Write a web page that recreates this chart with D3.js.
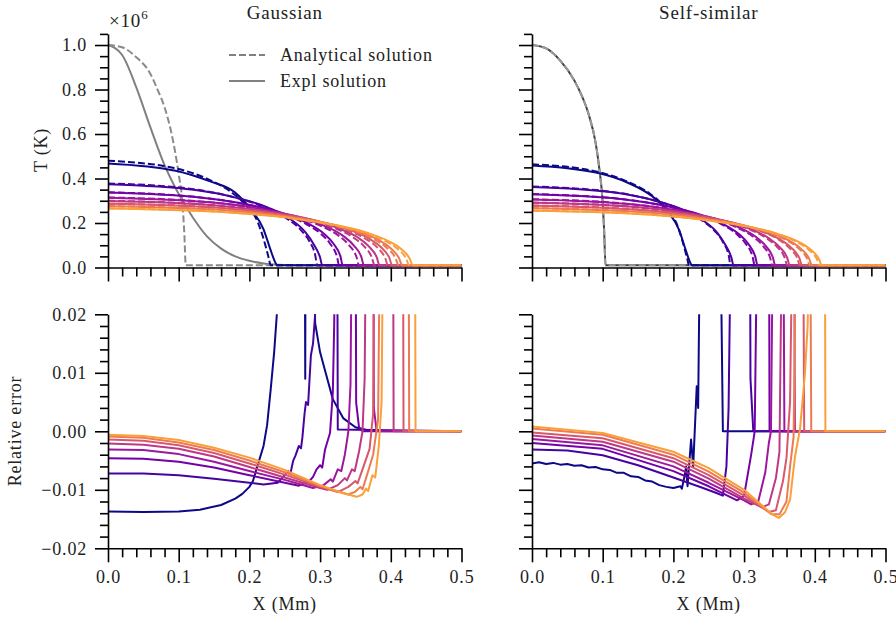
<!DOCTYPE html>
<html lang="en">
<head>
<meta charset="UTF-8">
<title>Gaussian vs Self-similar conduction fronts</title>
<style>
    body { margin: 0; background: #fff; }
    text { font-family: "Liberation Serif", "DejaVu Serif", serif; fill: #222; letter-spacing: 0.8px; }
    .axis path, .axis line { stroke: #000; stroke-width: 1.6px; }
</style>
</head>
<body>
<svg id="chart" width="896" height="621"></svg>
<script src="https://d3js.org/d3.v7.min.js"></script>
<script>
// ---- data (T in units of 1e6 K, x in Mm) ----
const panelTitles = ["Gaussian", "Self-similar"];
const legendLabels = ["Analytical solution", "Expl solution"];
const xMajor = [0, 0.1, 0.2, 0.3, 0.4, 0.5];
const tMajor = [0, 0.2, 0.4, 0.6, 0.8, 1.0];
const errMajor = [-0.02, -0.01, 0, 0.01, 0.02];

// initial profiles (grey)
const gaussInitNum = [[0,1.0],[0.02,0.955],[0.04,0.81],[0.06,0.63],[0.08,0.46],[0.1,0.33],[0.12,0.225],[0.14,0.14],[0.16,0.085],[0.18,0.05],[0.2,0.03],[0.22,0.018],[0.24,0.012],[0.26,0.01],[0.5,0.01]];
const gaussInitAna = [[0,1.0],[0.02,0.99],[0.04,0.945],[0.06,0.87],[0.07,0.8],[0.08,0.72],[0.09,0.6],[0.1,0.42],[0.105,0.3],[0.108,0.15],[0.11,0.01],[0.5,0.01]];
const selfInitNum = [[0,1.0],[0.02,0.985],[0.04,0.93],[0.06,0.84],[0.07,0.775],[0.08,0.69],[0.09,0.56],[0.095,0.45],[0.1,0.29],[0.102,0.17],[0.104,0.01],[0.5,0.01]];
const selfInitAna = [[0,1.0],[0.02,0.985],[0.04,0.93],[0.06,0.84],[0.07,0.775],[0.08,0.69],[0.09,0.56],[0.095,0.45],[0.1,0.29],[0.102,0.17],[0.104,0.01],[0.5,0.01]];

// later times, numerical (solid) and analytical (dashed)
const gaussNum = [
  [[0,0.468],[0.0956,0.435],[0.1434,0.388],[0.1793,0.338],[0.2032,0.257],[0.2199,0.173],[0.2294,0.084],[0.2366,0.023],[0.239,0.01],[0.5,0.01]],
  [[0,0.374],[0.1212,0.349],[0.1818,0.313],[0.2273,0.268],[0.2576,0.218],[0.2788,0.16],[0.2909,0.105],[0.3,0.045],[0.303,0.01],[0.5,0.01]],
  [[0,0.337],[0.1328,0.314],[0.1992,0.282],[0.249,0.242],[0.2822,0.199],[0.3054,0.152],[0.3187,0.108],[0.3287,0.051],[0.332,0.01],[0.5,0.01]],
  [[0,0.314],[0.1448,0.293],[0.2172,0.263],[0.2715,0.225],[0.3077,0.185],[0.333,0.141],[0.3475,0.1],[0.3584,0.047],[0.362,0.01],[0.5,0.01]],
  [[0,0.299],[0.1536,0.279],[0.2304,0.25],[0.288,0.215],[0.3264,0.176],[0.3533,0.135],[0.3686,0.096],[0.3802,0.045],[0.384,0.01],[0.5,0.01]],
  [[0,0.286],[0.1608,0.267],[0.2412,0.239],[0.3015,0.205],[0.3417,0.169],[0.3698,0.129],[0.3859,0.092],[0.398,0.043],[0.402,0.01],[0.5,0.01]],
  [[0,0.275],[0.1664,0.257],[0.2496,0.23],[0.312,0.197],[0.3536,0.162],[0.3827,0.124],[0.3994,0.088],[0.4118,0.041],[0.416,0.01],[0.5,0.01]],
  [[0,0.265],[0.1724,0.247],[0.2586,0.222],[0.3233,0.19],[0.3664,0.156],[0.3965,0.119],[0.4138,0.085],[0.4267,0.04],[0.431,0.01],[0.5,0.01]]
];
const gaussAna = [
  [[0,0.48],[0.092,0.448],[0.138,0.402],[0.1725,0.343],[0.1955,0.278],[0.2116,0.206],[0.2208,0.12],[0.2277,0.038],[0.23,0.01],[0.5,0.01]],
  [[0,0.378],[0.1184,0.353],[0.1776,0.316],[0.222,0.271],[0.2516,0.223],[0.2723,0.17],[0.2842,0.121],[0.293,0.057],[0.296,0.01],[0.5,0.01]],
  [[0,0.338],[0.1308,0.315],[0.1962,0.283],[0.2453,0.243],[0.278,0.199],[0.3008,0.152],[0.3139,0.108],[0.3237,0.051],[0.327,0.01],[0.5,0.01]],
  [[0,0.315],[0.142,0.294],[0.213,0.264],[0.2663,0.226],[0.3018,0.186],[0.3266,0.142],[0.3408,0.101],[0.3515,0.047],[0.355,0.01],[0.5,0.01]],
  [[0,0.3],[0.1508,0.28],[0.2262,0.251],[0.2828,0.215],[0.3205,0.177],[0.3468,0.135],[0.3619,0.096],[0.3732,0.045],[0.377,0.01],[0.5,0.01]],
  [[0,0.287],[0.1584,0.268],[0.2376,0.24],[0.297,0.206],[0.3366,0.169],[0.3643,0.129],[0.3802,0.092],[0.392,0.043],[0.396,0.01],[0.5,0.01]],
  [[0,0.276],[0.1644,0.258],[0.2466,0.231],[0.3083,0.198],[0.3494,0.163],[0.3781,0.124],[0.3946,0.088],[0.4069,0.041],[0.411,0.01],[0.5,0.01]],
  [[0,0.266],[0.1704,0.248],[0.2556,0.223],[0.3195,0.191],[0.3621,0.157],[0.3919,0.12],[0.409,0.085],[0.4217,0.04],[0.426,0.01],[0.5,0.01]]
];
const selfNum = [
  [[0,0.459],[0.0904,0.427],[0.1356,0.381],[0.1695,0.321],[0.1921,0.252],[0.2079,0.17],[0.217,0.083],[0.2237,0.023],[0.226,0.01],[0.5,0.01]],
  [[0,0.362],[0.114,0.338],[0.171,0.303],[0.2138,0.259],[0.2423,0.211],[0.2622,0.156],[0.2736,0.101],[0.2822,0.043],[0.285,0.01],[0.5,0.01]],
  [[0,0.329],[0.1276,0.307],[0.1914,0.275],[0.2393,0.236],[0.2712,0.194],[0.2935,0.148],[0.3062,0.105],[0.3158,0.049],[0.319,0.01],[0.5,0.01]],
  [[0,0.306],[0.1376,0.285],[0.2064,0.256],[0.258,0.22],[0.2924,0.181],[0.3165,0.138],[0.3302,0.098],[0.3406,0.046],[0.344,0.01],[0.5,0.01]],
  [[0,0.291],[0.1458,0.272],[0.2187,0.244],[0.2734,0.209],[0.3098,0.172],[0.3353,0.131],[0.3499,0.093],[0.3609,0.044],[0.3645,0.01],[0.5,0.01]],
  [[0,0.278],[0.1528,0.259],[0.2292,0.233],[0.2865,0.2],[0.3247,0.164],[0.3514,0.125],[0.3667,0.089],[0.3782,0.042],[0.382,0.01],[0.5,0.01]],
  [[0,0.266],[0.1584,0.248],[0.2376,0.223],[0.297,0.191],[0.3366,0.157],[0.3643,0.12],[0.3802,0.085],[0.392,0.04],[0.396,0.01],[0.5,0.01]],
  [[0,0.255],[0.164,0.238],[0.246,0.213],[0.3075,0.183],[0.3485,0.15],[0.3772,0.115],[0.3936,0.082],[0.4059,0.038],[0.41,0.01],[0.5,0.01]]
];
const selfAna = [
  [[0,0.464],[0.0888,0.433],[0.1332,0.388],[0.1665,0.332],[0.1887,0.269],[0.2042,0.2],[0.2131,0.116],[0.2198,0.037],[0.222,0.01],[0.5,0.01]],
  [[0,0.364],[0.1124,0.34],[0.1686,0.305],[0.2108,0.261],[0.2389,0.215],[0.2585,0.164],[0.2698,0.116],[0.2782,0.055],[0.281,0.01],[0.5,0.01]],
  [[0,0.33],[0.126,0.308],[0.189,0.276],[0.2363,0.237],[0.2678,0.195],[0.2898,0.149],[0.3024,0.106],[0.3119,0.05],[0.315,0.01],[0.5,0.01]],
  [[0,0.307],[0.136,0.286],[0.204,0.257],[0.255,0.22],[0.289,0.181],[0.3128,0.138],[0.3264,0.098],[0.3366,0.046],[0.34,0.01],[0.5,0.01]],
  [[0,0.292],[0.1444,0.272],[0.2166,0.244],[0.2708,0.21],[0.3069,0.172],[0.3321,0.131],[0.3466,0.093],[0.3574,0.044],[0.361,0.01],[0.5,0.01]],
  [[0,0.279],[0.1516,0.26],[0.2274,0.234],[0.2843,0.2],[0.3222,0.165],[0.3487,0.126],[0.3638,0.089],[0.3752,0.042],[0.379,0.01],[0.5,0.01]],
  [[0,0.267],[0.1572,0.249],[0.2358,0.223],[0.2948,0.192],[0.3341,0.158],[0.3616,0.12],[0.3773,0.085],[0.3891,0.04],[0.393,0.01],[0.5,0.01]],
  [[0,0.256],[0.1628,0.239],[0.2442,0.214],[0.3053,0.184],[0.346,0.151],[0.3744,0.115],[0.3907,0.082],[0.4029,0.038],[0.407,0.01],[0.5,0.01]]
];

// relative error (values above 0.02 run off the top of the axes)
const gaussErr = [
  [[0,-0.0137],[0.05,-0.0138],[0.1,-0.0137],[0.13,-0.0134],[0.16,-0.0126],[0.18,-0.0115],[0.19,-0.0107],[0.2,-0.0095],[0.205,-0.0085],[0.21,-0.0065],[0.215,-0.0045],[0.22,-0.0025],[0.225,0.001],[0.23,0.007],[0.235,0.0135],[0.24,0.022],[0.245,0.05],[0.278,0.05],[0.279,0.009],[0.2795,0.05],[0.289,0.05],[0.293,0.0185],[0.3,0.0135],[0.309,0.0095],[0.318,0.0055],[0.333,0.0022],[0.35,0.0007],[0.37,0.0001],[0.5,0]],
  [[0,-0.0072],[0.05,-0.0072],[0.1,-0.0075],[0.15,-0.0081],[0.2,-0.0088],[0.22,-0.0091],[0.24,-0.0088],[0.25,-0.0075],[0.255,-0.0068],[0.258,-0.0072],[0.262,-0.005],[0.265,-0.0042],[0.27,-0.0025],[0.273,-0.0029],[0.275,-0.001],[0.278,0.003],[0.28,0.005],[0.283,0.0045],[0.287,0.013],[0.29,0.015],[0.293,0.02],[0.296,0.05],[0.324,0.05],[0.325,0.0003],[0.5,0]],
  [[0,-0.0046],[0.05,-0.0047],[0.1,-0.0052],[0.15,-0.0062],[0.2,-0.0075],[0.25,-0.0088],[0.27,-0.0093],[0.285,-0.0085],[0.29,-0.0078],[0.295,-0.0065],[0.3,-0.0058],[0.303,-0.0062],[0.307,-0.0031],[0.314,-0.0003],[0.318,0.0066],[0.32,0.0186],[0.322,0.05],[0.35,0.05],[0.351,0.0049],[0.355,0.0007],[0.36,0],[0.5,0]],
  [[0,-0.0031],[0.05,-0.0032],[0.1,-0.0039],[0.15,-0.0052],[0.2,-0.0068],[0.25,-0.0083],[0.29,-0.0097],[0.305,-0.0092],[0.315,-0.0082],[0.318,-0.0086],[0.325,-0.0065],[0.33,-0.0068],[0.335,-0.004],[0.34,0.0],[0.343,0.008],[0.346,0.05],[0.375,0.05],[0.376,0.004],[0.38,0],[0.5,0]],
  [[0,-0.0021],[0.05,-0.0023],[0.1,-0.003],[0.15,-0.0043],[0.2,-0.0061],[0.25,-0.0079],[0.3,-0.0097],[0.31,-0.01],[0.325,-0.0092],[0.335,-0.008],[0.338,-0.0084],[0.345,-0.0065],[0.349,-0.0068],[0.355,-0.0035],[0.36,0.0],[0.363,0.009],[0.366,0.05],[0.403,0.05],[0.404,0],[0.5,0]],
  [[0,-0.0014],[0.05,-0.0016],[0.1,-0.0024],[0.15,-0.0037],[0.2,-0.0055],[0.25,-0.0074],[0.3,-0.0095],[0.325,-0.0104],[0.34,-0.0095],[0.35,-0.0085],[0.353,-0.0089],[0.36,-0.0065],[0.37,-0.003],[0.375,0.003],[0.378,0.05],[0.417,0.05],[0.418,0],[0.5,0]],
  [[0,-0.0009],[0.05,-0.0011],[0.1,-0.0019],[0.15,-0.0032],[0.2,-0.005],[0.25,-0.007],[0.3,-0.0093],[0.34,-0.0108],[0.35,-0.0103],[0.357,-0.0095],[0.36,-0.0099],[0.365,-0.008],[0.375,-0.004],[0.382,0.002],[0.386,0.05],[0.425,0.05],[0.426,0],[0.5,0]],
  [[0,-0.0006],[0.05,-0.0008],[0.1,-0.0015],[0.15,-0.0028],[0.2,-0.0045],[0.25,-0.0066],[0.3,-0.0092],[0.33,-0.0105],[0.352,-0.0112],[0.36,-0.0108],[0.365,-0.0098],[0.368,-0.0102],[0.374,-0.0075],[0.378,-0.0079],[0.383,-0.0026],[0.387,0.005],[0.39,0.05],[0.434,0.05],[0.435,0],[0.5,0]]
];
const selfErr = [
  [[0,-0.0055],[0.01,-0.0053],[0.02,-0.0056],[0.03,-0.0054],[0.04,-0.0057],[0.05,-0.0056],[0.06,-0.0059],[0.07,-0.0058],[0.08,-0.0062],[0.09,-0.0061],[0.1,-0.0065],[0.11,-0.0066],[0.12,-0.0071],[0.13,-0.0071],[0.14,-0.0077],[0.15,-0.0078],[0.16,-0.0084],[0.17,-0.0086],[0.18,-0.0092],[0.19,-0.0095],[0.2,-0.0097],[0.21,-0.0094],[0.212,-0.0098],[0.216,-0.0075],[0.218,-0.006],[0.22,-0.0094],[0.225,-0.0014],[0.228,-0.006],[0.233,0.0077],[0.235,0.004],[0.239,0.05],[0.265,0.05],[0.27,0],[0.5,0]],
  [[0,-0.0031],[0.05,-0.0033],[0.1,-0.0041],[0.15,-0.0058],[0.2,-0.0079],[0.24,-0.0096],[0.26,-0.0105],[0.27,-0.011],[0.275,-0.006],[0.278,0.0037],[0.283,0.05],[0.308,0.05],[0.309,0.009],[0.313,0],[0.5,0]],
  [[0,-0.002],[0.1,-0.003],[0.2,-0.0068],[0.25,-0.0094],[0.28,-0.0112],[0.29,-0.0118],[0.3,-0.011],[0.31,-0.004],[0.315,0.0],[0.32,0.05],[0.335,0.05],[0.336,0],[0.5,0]],
  [[0,-0.0013],[0.1,-0.0024],[0.2,-0.006],[0.25,-0.0088],[0.3,-0.0118],[0.31,-0.0125],[0.32,-0.012],[0.33,-0.007],[0.335,-0.002],[0.338,0.0],[0.342,0.05],[0.355,0.05],[0.357,0],[0.5,0]],
  [[0,-0.0007],[0.1,-0.0018],[0.2,-0.0052],[0.25,-0.0081],[0.3,-0.0115],[0.325,-0.013],[0.335,-0.0125],[0.345,-0.008],[0.35,-0.0035],[0.355,0.05],[0.37,0.05],[0.372,0],[0.5,0]],
  [[0,-0.0002],[0.1,-0.0012],[0.2,-0.0046],[0.25,-0.0075],[0.3,-0.011],[0.335,-0.0138],[0.345,-0.0135],[0.355,-0.0085],[0.36,-0.0045],[0.365,0.005],[0.37,0.05],[0.383,0.05],[0.385,0],[0.5,0]],
  [[0,0.0005],[0.1,-0.0006],[0.2,-0.004],[0.25,-0.0069],[0.3,-0.0105],[0.339,-0.0142],[0.35,-0.0142],[0.36,-0.012],[0.365,-0.006],[0.37,-0.001],[0.375,0.05],[0.393,0.05],[0.395,0],[0.5,0]],
  [[0,0.0008],[0.1,-0.0003],[0.2,-0.0035],[0.25,-0.0063],[0.3,-0.01],[0.34,-0.0142],[0.349,-0.0148],[0.3576,-0.0139],[0.365,-0.0117],[0.372,-0.0043],[0.379,0.0003],[0.386,0.0098],[0.39,0.0183],[0.393,0.05],[0.414,0.05],[0.415,0],[0.5,0]]
];

// ---- layout ----
const svg = d3.select("#chart");
const colX = [[108, 461.5], [532, 885.5]];
const topY = [267.5, 33.9];
const botY = [548.3, 314.3];
const nCurves = gaussNum.length;
const color = i => d3.interpolatePlasma(i * 0.78 / (nCurves - 1));
const fontSize = 18;

const yTop = d3.scaleLinear().domain([0, 1.05]).range(topY);
const yBot = d3.scaleLinear().domain([-0.02, 0.02]).range(botY);
const xScales = colX.map(r => d3.scaleLinear().domain([0, 0.5]).range(r));

const range = (a, b, s) => d3.range(Math.round((b - a) / s) + 1).map(i => +(a + i * s).toFixed(4));
const xMinor = range(0, 0.5, 0.02).filter(v => !xMajor.some(m => Math.abs(m - v) < 1e-6));
const tMinor = range(0, 1.05, 0.05).filter(v => !tMajor.some(m => Math.abs(m - v) < 1e-6));
const errMinor = range(-0.02, 0.02, 0.002).filter(v => !errMajor.some(m => Math.abs(m - v) < 1e-6));

const fmtMinus = f => v => f(v).replace("-", "\u2212");

function drawAxes(g, x, y, yMaj, yMin, yFmt, xLabels) {
    const xa = g.append("g").attr("class", "axis")
        .attr("transform", `translate(0,${y.range()[0]})`);
    xa.call(d3.axisBottom(x).tickValues(xMajor).tickSize(14).tickSizeOuter(0)
        .tickFormat(xLabels ? d3.format(".1f") : ""));
    xa.append("g").call(d3.axisBottom(x).tickValues(xMinor).tickSize(9).tickFormat(""))
        .select(".domain").remove();
    xa.selectAll("text").attr("dy", "1.0em");

    const ya = g.append("g").attr("class", "axis")
        .attr("transform", `translate(${x.range()[0]},0)`);
    ya.call(d3.axisLeft(y).tickValues(yMaj).tickSize(13).tickSizeOuter(0)
        .tickFormat(yFmt || ""));
    ya.append("g").call(d3.axisLeft(y).tickValues(yMin).tickSize(8).tickFormat(""))
        .select(".domain").remove();
    ya.selectAll("text").attr("x", -21);
    g.selectAll(".axis text").attr("font-family", null).attr("font-size", fontSize).attr("fill", "#222");
}

function clip(id, x, y) {
    svg.append("clipPath").attr("id", id).append("rect")
        .attr("x", x.range()[0]).attr("y", y.range()[1])
        .attr("width", x.range()[1] - x.range()[0])
        .attr("height", y.range()[0] - y.range()[1]);
}

function linePath(x, y) {
    return d3.line().x(d => x(d[0])).y(d => y(d[1])).curve(d3.curveMonotoneX);
}

const panels = [
    { init: [gaussInitNum, gaussInitAna], num: gaussNum, ana: gaussAna, err: gaussErr, greyNum: "#808080", greyAna: "#8a8a8a" },
    { init: [selfInitNum, selfInitAna], num: selfNum, ana: selfAna, err: selfErr, greyNum: "#404040", greyAna: "#9a9a9a" }
];

panels.forEach((p, c) => {
    const x = xScales[c];
    clip("ct" + c, x, yTop);
    clip("cb" + c, x, yBot);

    // temperature profiles
    const gt = svg.append("g").attr("clip-path", `url(#ct${c})`);
    const lt = linePath(x, yTop);
    gt.append("path").datum(p.init[0]).attr("d", lt).attr("fill", "none")
        .attr("stroke", p.greyNum).attr("stroke-width", 2);
    gt.append("path").datum(p.init[1]).attr("d", lt).attr("fill", "none")
        .attr("stroke", p.greyAna).attr("stroke-width", 2).attr("stroke-dasharray", "7,3");
    p.num.forEach((curve, i) => {
        gt.append("path").datum(curve).attr("d", lt).attr("fill", "none")
            .attr("stroke", color(i)).attr("stroke-width", 2);
        gt.append("path").datum(p.ana[i]).attr("d", lt).attr("fill", "none")
            .attr("stroke", color(i)).attr("stroke-width", 2).attr("stroke-dasharray", "7,3");
    });

    // relative error
    const gb = svg.append("g").attr("clip-path", `url(#cb${c})`);
    const lb = d3.line().x(d => x(d[0])).y(d => yBot(d[1]));
    p.err.forEach((curve, i) => {
        gb.append("path").datum(curve).attr("d", lb).attr("fill", "none")
            .attr("stroke", color(i)).attr("stroke-width", 2).attr("stroke-linejoin", "round");
    });

    drawAxes(svg.append("g"), x, yTop, tMajor, tMinor, c === 0 ? d3.format(".1f") : null, false);
    drawAxes(svg.append("g"), x, yBot, errMajor, errMinor, c === 0 ? fmtMinus(d3.format(".2f")) : null, true);

    svg.append("text").attr("x", (x.range()[0] + x.range()[1]) / 2).attr("y", 19)
        .attr("text-anchor", "middle").attr("font-size", fontSize + 1).text(panelTitles[c]);
    svg.append("text").attr("x", (x.range()[0] + x.range()[1]) / 2).attr("y", 610)
        .attr("text-anchor", "middle").attr("font-size", fontSize).text("X (Mm)");
});

// offset label of the T axis
const off = svg.append("text").attr("x", 109).attr("y", 27).attr("font-size", 19);
off.append("tspan").text("\u00d710");
off.append("tspan").attr("font-size", 13).attr("dy", -8).text("6");

// y labels
svg.append("text").attr("transform", "translate(47,150) rotate(-90)")
    .attr("text-anchor", "middle").attr("font-size", fontSize).text("T (K)");
svg.append("text").attr("transform", "translate(21,431) rotate(-90)")
    .attr("text-anchor", "middle").attr("font-size", fontSize).text("Relative error");

// legend
const leg = svg.append("g");
legendLabels.forEach((lab, i) => {
    const yy = 55 + i * 26;
    leg.append("line").attr("x1", 229).attr("x2", 265).attr("y1", yy).attr("y2", yy)
        .attr("stroke", "#808080").attr("stroke-width", 2)
        .attr("stroke-dasharray", i === 0 ? "7,3" : null);
    leg.append("text").attr("x", 280).attr("y", yy + 6).attr("font-size", fontSize).text(lab);
});
</script>
</body>
</html>
